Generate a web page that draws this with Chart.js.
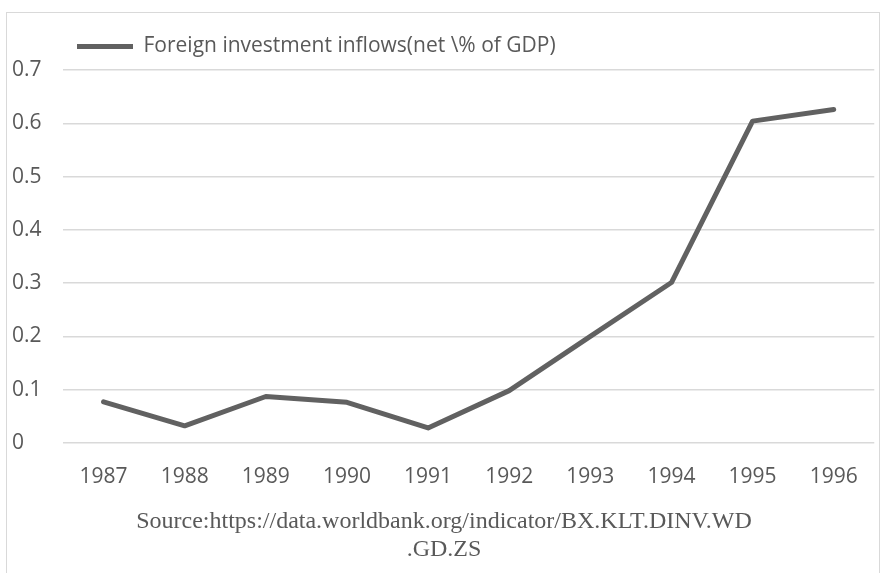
<!DOCTYPE html>
<html>
<head>
<meta charset="utf-8">
<script src="https://cdn.jsdelivr.net/npm/chart.js@4"></script>
<style>
  html, body { margin: 0; padding: 0; background: #fff; }
  #wrap { position: relative; width: 880px; height: 573px; overflow: hidden; }
  #frame { position: absolute; left: 6px; top: 12px; width: 872px; height: 600px; border: 1px solid #d9d9d9; }
  #myChart { position: absolute; left: 0; top: 0; }
</style>
</head>
<body>
<div id="wrap">
  <div id="frame"></div>
  <canvas id="myChart" width="880" height="573"></canvas>
</div>
<script>
// år och värden
const years = ['1987', '1988', '1989', '1990', '1991', '1992', '1993', '1994', '1995', '1996']
const inflows = [0.077, 0.032, 0.087, 0.076, 0.028, 0.098, 0.2, 0.301, 0.604, 0.626]
const seriesLabel = 'Foreign investment inflows(net \\% of GDP)'
const sourceLines = ['Source:https://data.worldbank.org/indicator/BX.KLT.DINV.WD', '.GD.ZS']

const grey = '#595959'

// lite extra luft under legenden, och flytta den lite åt höger
const legendGap = {
    id: 'legendGap',
    afterInit(chart) {
        const fit = chart.legend.fit
        chart.legend.fit = function () {
            fit.call(this)
            this.height += 3
        }
    },
    afterLayout(chart) {
        chart.legend.left += 4
        chart.legend.right += 4
    }
}

const ctx = document.getElementById('myChart').getContext('2d')

const myChart = new Chart(ctx, {
    type: 'line',
    data: {
        labels: years,
        datasets: [{
            label: seriesLabel,
            data: inflows,
            borderColor: '#616161',
            backgroundColor: '#616161',
            borderWidth: 5,
            borderCapStyle: 'round',
            borderJoinStyle: 'round',
            pointRadius: 0,
            tension: 0
        }]
    },
    plugins: [legendGap],
    options: {
        responsive: false,
        animation: false,
        layout: {
            padding: { left: 12, right: 4, top: 26, bottom: 0 }
        },
        plugins: {
            legend: {
                position: 'top',
                align: 'start',
                fullSize: false,
                labels: {
                    usePointStyle: true,
                    pointStyle: 'line',
                    pointStyleWidth: 56,
                    padding: 10,
                    color: grey,
                    font: { family: 'Open Sans', size: 21 }
                }
            },
            title: {
                display: true,
                position: 'bottom',
                text: sourceLines,
                color: grey,
                font: { family: 'Liberation Serif', size: 24, weight: 'normal', lineHeight: 1.17 },
                padding: { top: 0, bottom: 9 }
            },
            tooltip: { enabled: false }
        },
        scales: {
            x: {
                offset: true,
                grid: { display: false, drawTicks: false },
                border: { display: false },
                ticks: {
                    color: grey,
                    padding: 22,
                    font: { family: 'Open Sans', size: 21 }
                },
                afterFit: scale => { scale.height = 65 }
            },
            y: {
                min: 0,
                max: 0.7,
                grid: { color: '#d9d9d9', lineWidth: 1.5, drawTicks: false },
                border: { display: false },
                ticks: {
                    stepSize: 0.1,
                    crossAlign: 'far',
                    color: grey,
                    padding: 10,
                    font: { family: 'Open Sans', size: 21 },
                    callback: v => Math.round(v * 10) / 10
                },
                afterFit: scale => { scale.width = 51 }
            }
        }
    }
})
</script>
</body>
</html>
